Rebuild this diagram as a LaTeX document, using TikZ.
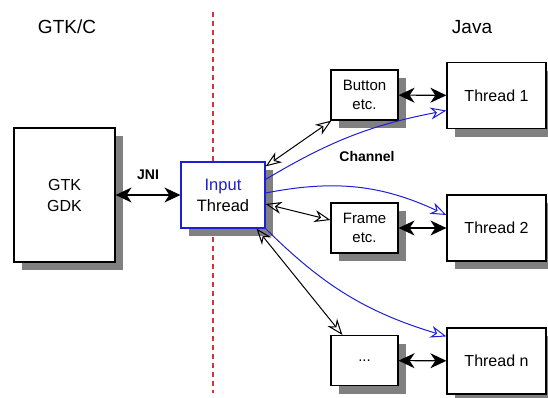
\documentclass[tikz,border=0pt]{standalone}
\usepackage{fontspec}
\setmainfont{Liberation Sans}
\usetikzlibrary{arrows.meta,shadows}

\definecolor{chanblue}{RGB}{30,30,215}
\definecolor{splitred}{RGB}{215,50,60}

\begin{document}
\begin{tikzpicture}[
  x=1pt, y=-1pt,
  shadowbox/.style={draw, line width=1.2pt, fill=white, align=center, inner sep=0pt,
    general shadow={fill=black!50, shadow xshift=8pt, shadow yshift=-8pt}},
  widget/.style={shadowbox, minimum width=67pt, minimum height=50pt, font=\fontsize{15}{19}\selectfont},
  jthread/.style={shadowbox, minimum width=99pt, minimum height=66pt, font=\fontsize{16}{20}\selectfont},
  both/.style={line width=1.1pt, {Stealth[length=16pt,width=15pt,inset=5pt]}-{Stealth[length=16pt,width=15pt,inset=5pt]}},
  hollow/.style={line width=1pt, {Stealth[open,length=16pt,width=12pt,inset=5pt]}-{Stealth[open,length=16pt,width=12pt,inset=5pt]}},
  channel/.style={chanblue, line width=1pt, -{Stealth[open,length=16pt,width=12pt,inset=5pt]}},
  side/.style={font=\fontsize{19}{23}\selectfont}
]
\useasboundingbox (0,0) rectangle (548,397);

% the two sides
\node[side] (gtkc) at (67,27) {GTK/C};
\node[side] (java) at (472,27) {Java};
\draw[splitred, line width=1.6pt, dash pattern=on 5pt off 4pt] (213,12) -- (213,393);

% native side
\node[shadowbox, minimum width=101pt, minimum height=134pt, font=\fontsize{16}{21}\selectfont] (gtk) at (64.5,195) {GTK\\GDK};
\node[shadowbox, draw=chanblue, minimum width=84pt, minimum height=66pt, font=\fontsize{16.5}{21}\selectfont] (input) at (223,195) {\textcolor{chanblue}{Input}\\Thread};

% java side
\node[widget] (button) at (364.5,95) {Button\\etc.};
\node[widget] (frame) at (364.5,228) {Frame\\etc.};
\node[widget] (dots) at (364.5,360.5) {...};

\node[jthread] (t1) at (496.5,95.5) {Thread 1};
\node[jthread] (t2) at (496.5,228) {Thread 2};
\node[jthread] (tn) at (496.5,361) {Thread n};

% JNI link
\draw[both] (gtk) -- node[above=11pt, font=\bfseries\fontsize{14}{16}\selectfont] {JNI} (input);

% widgets to threads
\draw[both] (button) -- (t1);
\draw[both] (frame) -- (t2);
\draw[both] (dots) -- (tn);

% input thread to widgets
\draw[hollow] ([yshift=-5pt]input.north east) -- ([xshift=1pt]button.south west);
\draw[hollow] ([yshift=-9pt]input.east) -- ([yshift=8pt]frame.west);
\draw[hollow] ([xshift=-9pt]input.south east) -- ([xshift=12pt]dots.north west);

% channels
\draw[channel] ([yshift=-18pt]input.north east) to[bend left=10] ([yshift=-15pt]t1.west);
\draw[channel] ([yshift=2pt]input.east) to[bend left=18] ([yshift=13pt]t2.west);
\draw[channel] (input.south east) to[bend right=14] ([yshift=-9pt]tn.north west);
\node[font=\bfseries\fontsize{14}{16}\selectfont] (chan) at (367,156) {Channel};

\end{tikzpicture}
\end{document}
